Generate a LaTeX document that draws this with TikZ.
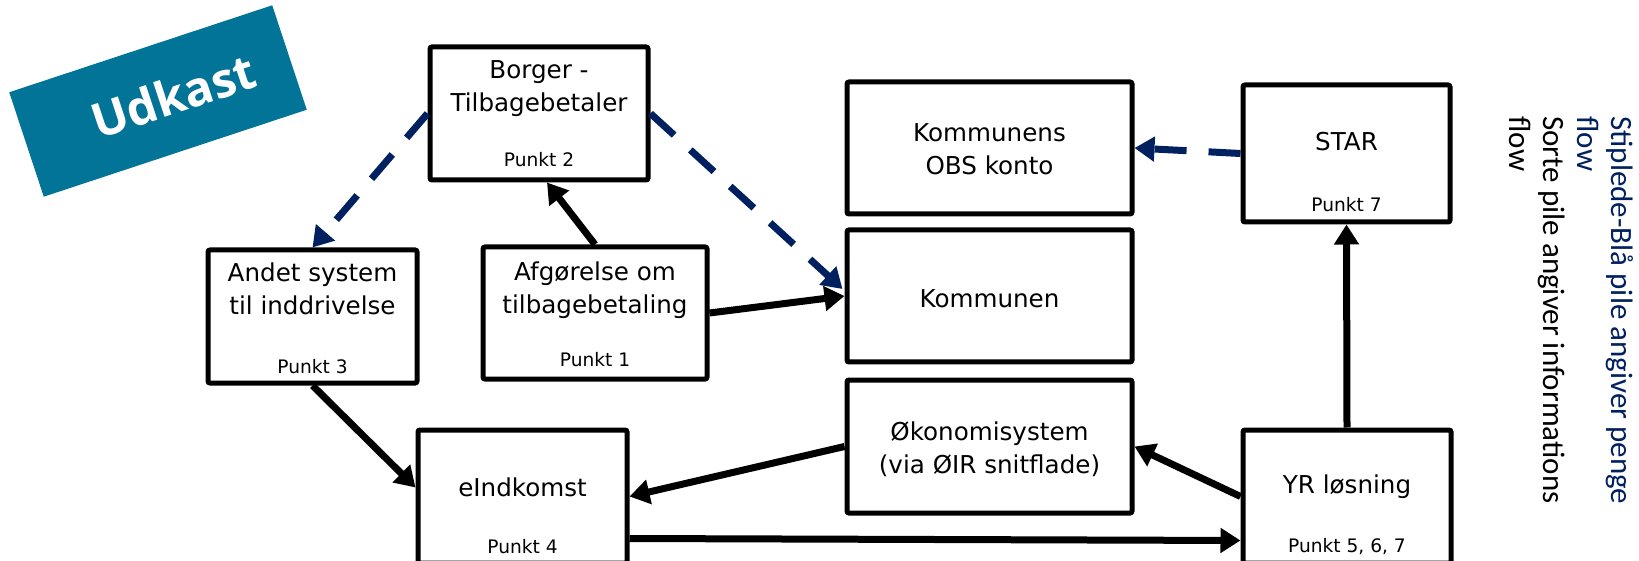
\documentclass[tikz,border=0pt]{standalone}
\usepackage{fontspec}
\setmainfont{DejaVu Sans}
\newfontfamily\legendfont{Carlito}
\newfontfamily\stampfont{Open Sans}
\usetikzlibrary{arrows.meta,calc}
\definecolor{pengeblue}{RGB}{0,32,96}
\definecolor{stampteal}{RGB}{2,116,152}

\begin{document}
\begin{tikzpicture}
[x=0.5pt,y=-0.5pt,
 box/.style={draw,line width=2.5pt,rounded corners=1pt,inner sep=0pt},
 title/.style={align=center,inner sep=0pt,font=\fontsize{12.3}{16.5}\selectfont},
 punkt/.style={inner sep=0pt,font=\fontsize{9.3}{11}\selectfont},
 info/.style={line width=3.5pt,-{Triangle[length=10pt,width=12pt]}},
 penge/.style={info,pengeblue,dash pattern=on 16pt off 11pt}]
\useasboundingbox (0,0) rectangle (1639,561);

\node[fill=stampteal,text=white,rotate=18.3,minimum width=138.5pt,minimum height=55pt,
  font=\stampfont\bfseries\fontsize{24}{28}\selectfont] (udkast) at (158,101) {\hspace{16pt}Udkast};

\node[box,minimum width=109pt,minimum height=66.5pt] (borger) at (539,113.5) {};
\node[title] (borgertitle) at (539,89) {Borger -\\Tilbagebetaler};
\node[punkt] (punkt2) at (539,160) {Punkt 2};

\node[box,minimum width=104.5pt,minimum height=66.5pt] (andet) at (312.5,316.5) {};
\node[title] (andettitle) at (312.5,289) {Andet system\\til inddrivelse};
\node[punkt] (punkt3) at (312.5,367) {Punkt 3};

\node[box,minimum width=112pt,minimum height=66pt] (afg) at (595,313) {};
\node[title] (afgtitle) at (595,290) {Afgørelse om\\tilbagebetaling};
\node[punkt] (punkt1) at (595,360) {Punkt 1};

\node[box,minimum width=142.5pt,minimum height=66pt] (obs) at (989.5,148) {};
\node[title] (obstitle) at (989.5,149.5) {Kommunens\\OBS konto};

\node[box,minimum width=142.5pt,minimum height=66pt] (kommunen) at (989.5,296) {};
\node[title] (kommunentitle) at (989.5,299) {Kommunen};

\node[box,minimum width=142.5pt,minimum height=66.5pt] (okonomi) at (989.5,446.5) {};
\node[title] (okonomititle) at (989.5,449) {Økonomisystem\\(via ØIR snitflade)};

\node[box,minimum width=103.5pt,minimum height=68.5pt] (star) at (1346.5,153.5) {};
\node[title] (startitle) at (1346.5,142) {STAR};
\node[punkt] (punkt7) at (1346.5,205) {Punkt 7};

\node[box,minimum width=104.5pt,minimum height=66.5pt] (eindkomst) at (522.5,496.5) {};
\node[title] (eindkomsttitle) at (522.5,487) {eIndkomst};
\node[punkt] (punkt4) at (522.5,547) {Punkt 4};

\node[box,minimum width=104pt,minimum height=66.5pt] (yr) at (1347,496.5) {};
\node[title] (yrtitle) at (1347,487) {YR løsning};
\node[punkt] (punkt567) at (1347,547) {Punkt 5, 6, 7};

\node[rotate=-90,anchor=north west,align=left,inner sep=0pt,
  font=\legendfont\fontsize{15.5}{17}\selectfont] (legend) at (1634,116)
  {\textcolor{pengeblue}{Stiplede-Blå pile angiver penge}\\\textcolor{pengeblue}{flow}\\Sorte pile angiver informations\\flow};

\draw[info] (afg.north) -- ($(borger.south)+(8,0)$);
\draw[info] (afg.east) -- (kommunen.west);
\draw[penge] (borger.east) -- ($(kommunen.west)+(-2,-7)$);
\draw[penge] (borger.west) -- (andet.north);
\draw[penge] (star.west) -- (obs.east);
\draw[info] (andet.south) -- ($(eindkomst.west)+(0,-9)$);
\draw[info] (okonomi.west) -- (eindkomst.east);
\draw[info] ($(eindkomst.east)+(0,42)$) -- ($(yr.west)+(0,44)$);
\draw[info] (yr.west) -- (okonomi.east);
\draw[info] (yr.north) -- (star.south);
\end{tikzpicture}
\end{document}
